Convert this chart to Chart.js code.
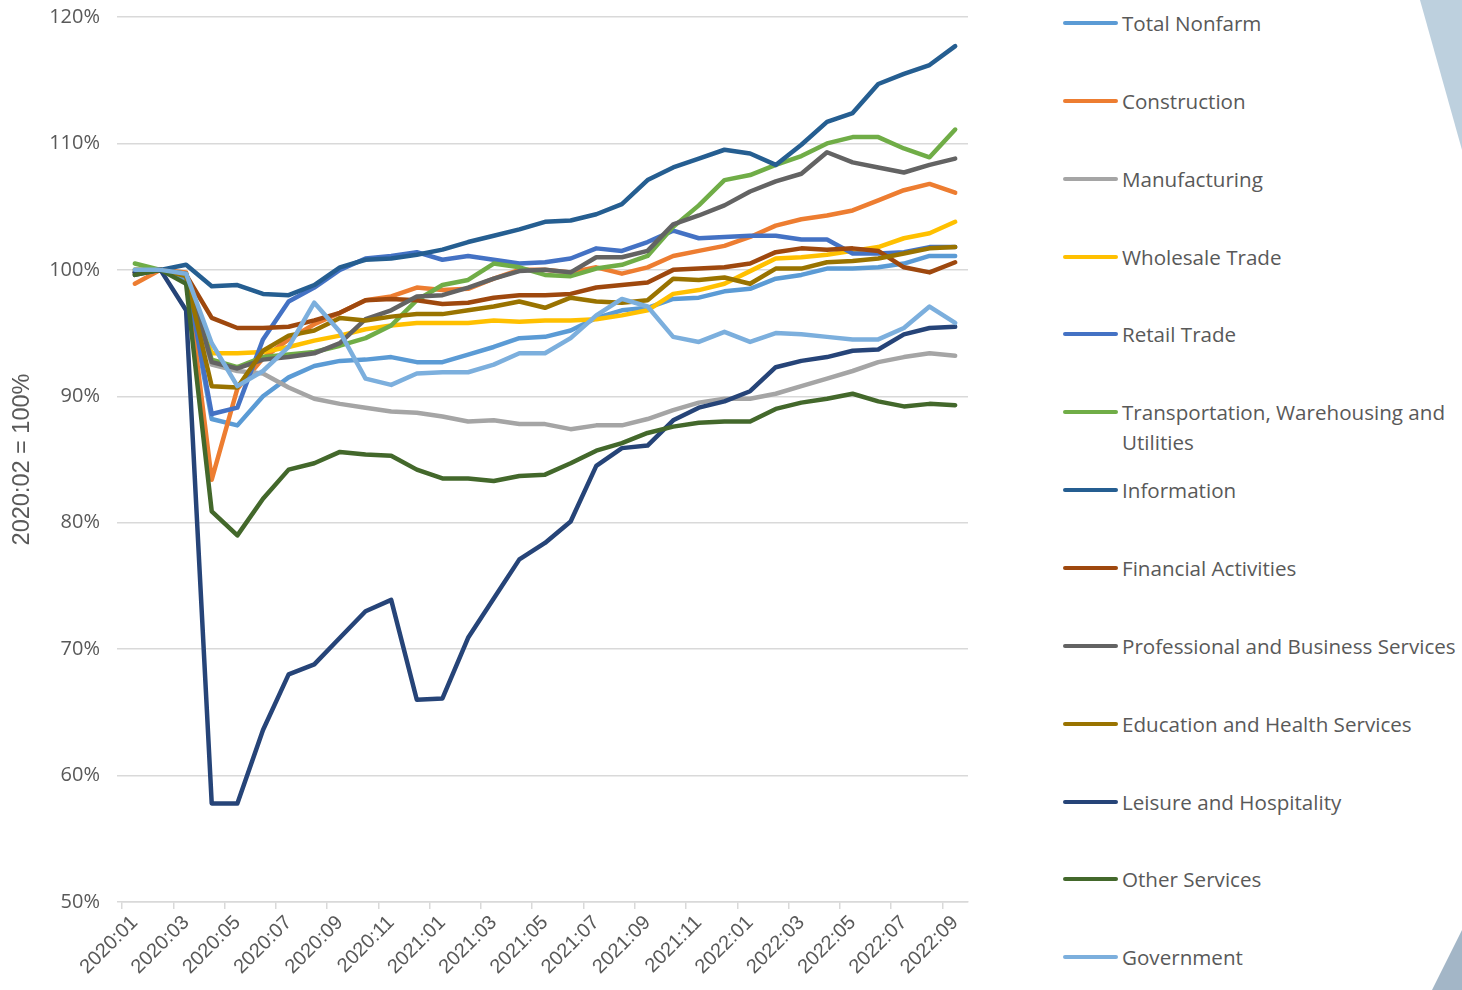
<!DOCTYPE html>
<html>
<head>
<meta charset="utf-8">
<script src="https://cdn.jsdelivr.net/npm/chart.js@4"></script>
<style>
  html, body { margin: 0; padding: 0; background: #fff; }
  #page { position: relative; width: 1462px; height: 990px; overflow: hidden; }
  #chartBox { position: absolute; left: 0; top: 0; width: 975px; height: 990px; }
  #legend { position: absolute; left: 1063px; top: 0; width: 399px; height: 990px;
            font-family: "Open Sans", sans-serif; font-size: 20.6px; color: #595959; }
  .item { position: absolute; left: 0; display: flex; align-items: flex-start; }
  .swatch { width: 55px; height: 4px; border-radius: 2px; margin-top: 13px; flex: none; }
  .label { margin-left: 4px; line-height: 30px; max-width: 345px; white-space: normal; }
  .tri { position: absolute; }
  #triTop { left: 1420px; top: 0; width: 42px; height: 150px; background: #bdd0de;
            clip-path: polygon(0 0, 100% 0, 100% 100%); }
  #triBottom { left: 1432px; top: 930px; width: 30px; height: 60px; background: #a3b6c7;
               clip-path: polygon(100% 0, 100% 100%, 0 100%); }
</style>
</head>
<body>
<div id="page">
  <div id="chartBox"><canvas id="empChart"></canvas></div>
  <div id="legend"></div>
  <div class="tri" id="triTop"></div>
  <div class="tri" id="triBottom"></div>
</div>
<script>
const months = [
  "2020:01", "2020:02", "2020:03", "2020:04", "2020:05", "2020:06", "2020:07", "2020:08", "2020:09", "2020:10", "2020:11", "2020:12",
  "2021:01", "2021:02", "2021:03", "2021:04", "2021:05", "2021:06", "2021:07", "2021:08", "2021:09", "2021:10", "2021:11", "2021:12",
  "2022:01", "2022:02", "2022:03", "2022:04", "2022:05", "2022:06", "2022:07", "2022:08", "2022:09"
];

const seriesNames = [
  "Total Nonfarm", "Construction", "Manufacturing", "Wholesale Trade", "Retail Trade",
  "Transportation, Warehousing and Utilities", "Information", "Financial Activities",
  "Professional and Business Services", "Education and Health Services",
  "Leisure and Hospitality", "Other Services", "Government"
];

const seriesColors = [
  "#5b9bd5", "#ed7d31", "#a5a5a5", "#ffc000", "#4472c4", "#70ad47", "#255e91",
  "#9e480e", "#636363", "#997300", "#264478", "#43682b", "#7cafdd"
];

// percent of 2020:02 level
const totalNonfarm   = [100.0, 100.0, 99.3, 88.2, 87.7, 90.0, 91.5, 92.4, 92.8, 92.9, 93.1, 92.7, 92.7, 93.3, 93.9, 94.6, 94.7, 95.2, 96.2, 96.8, 97.0, 97.7, 97.8, 98.3, 98.5, 99.3, 99.6, 100.1, 100.1, 100.2, 100.5, 101.1, 101.1];
const construction   = [98.9, 100.0, 99.8, 83.4, 90.6, 93.0, 94.5, 95.7, 96.6, 97.6, 97.9, 98.6, 98.4, 98.5, 99.3, 100.0, 100.0, 99.8, 100.2, 99.7, 100.2, 101.1, 101.5, 101.9, 102.6, 103.5, 104.0, 104.3, 104.7, 105.5, 106.3, 106.8, 106.1];
const manufacturing  = [100.0, 100.0, 99.6, 92.5, 92.0, 91.8, 90.7, 89.8, 89.4, 89.1, 88.8, 88.7, 88.4, 88.0, 88.1, 87.8, 87.8, 87.4, 87.7, 87.7, 88.2, 88.9, 89.5, 89.8, 89.8, 90.2, 90.8, 91.4, 92.0, 92.7, 93.1, 93.4, 93.2];
const wholesale      = [100.0, 100.0, 99.6, 93.4, 93.4, 93.5, 93.9, 94.4, 94.8, 95.3, 95.6, 95.8, 95.8, 95.8, 96.0, 95.9, 96.0, 96.0, 96.1, 96.4, 96.8, 98.1, 98.4, 98.9, 99.9, 100.9, 101.0, 101.2, 101.5, 101.8, 102.5, 102.9, 103.8];
const retail         = [99.8, 100.0, 99.6, 88.6, 89.1, 94.5, 97.5, 98.6, 100.0, 100.9, 101.1, 101.4, 100.8, 101.1, 100.8, 100.5, 100.6, 100.9, 101.7, 101.5, 102.2, 103.1, 102.5, 102.6, 102.7, 102.7, 102.4, 102.4, 101.3, 101.3, 101.4, 101.8, 101.8];
const transportation = [100.5, 100.0, 99.7, 92.9, 92.3, 93.1, 93.3, 93.5, 94.0, 94.6, 95.6, 97.6, 98.8, 99.2, 100.5, 100.2, 99.6, 99.5, 100.1, 100.4, 101.1, 103.4, 105.1, 107.1, 107.5, 108.3, 109.0, 110.0, 110.5, 110.5, 109.6, 108.9, 111.1];
const information    = [99.6, 100.0, 100.4, 98.7, 98.8, 98.1, 98.0, 98.8, 100.2, 100.8, 100.9, 101.2, 101.6, 102.2, 102.7, 103.2, 103.8, 103.9, 104.4, 105.2, 107.1, 108.1, 108.8, 109.5, 109.2, 108.3, 109.9, 111.7, 112.4, 114.7, 115.5, 116.2, 117.7];
const financial      = [99.7, 100.0, 99.6, 96.2, 95.4, 95.4, 95.5, 96.0, 96.6, 97.6, 97.7, 97.6, 97.3, 97.4, 97.8, 98.0, 98.0, 98.1, 98.6, 98.8, 99.0, 100.0, 100.1, 100.2, 100.5, 101.4, 101.7, 101.6, 101.7, 101.5, 100.2, 99.8, 100.6];
const professional   = [99.8, 100.0, 99.7, 92.7, 92.2, 92.9, 93.1, 93.4, 94.2, 96.1, 96.8, 97.9, 98.0, 98.6, 99.3, 99.9, 100.0, 99.8, 101.0, 101.0, 101.5, 103.6, 104.3, 105.1, 106.2, 107.0, 107.6, 109.3, 108.5, 108.1, 107.7, 108.3, 108.8];
const education      = [99.8, 100.0, 99.5, 90.8, 90.7, 93.6, 94.8, 95.2, 96.2, 96.0, 96.3, 96.5, 96.5, 96.8, 97.1, 97.5, 97.0, 97.8, 97.5, 97.4, 97.6, 99.3, 99.2, 99.4, 98.9, 100.1, 100.1, 100.6, 100.7, 100.9, 101.3, 101.7, 101.8];
const leisure        = [99.8, 100.0, 96.8, 57.8, 57.8, 63.6, 68.0, 68.8, 70.9, 73.0, 73.9, 66.0, 66.1, 70.9, 74.0, 77.1, 78.4, 80.1, 84.5, 85.9, 86.1, 88.1, 89.1, 89.6, 90.4, 92.3, 92.8, 93.1, 93.6, 93.7, 94.9, 95.4, 95.5];
const otherServices  = [99.6, 100.0, 98.9, 80.9, 79.0, 81.9, 84.2, 84.7, 85.6, 85.4, 85.3, 84.2, 83.5, 83.5, 83.3, 83.7, 83.8, 84.7, 85.7, 86.3, 87.1, 87.6, 87.9, 88.0, 88.0, 89.0, 89.5, 89.8, 90.2, 89.6, 89.2, 89.4, 89.3];
const government     = [100.0, 100.0, 99.7, 94.2, 90.8, 92.0, 93.9, 97.4, 95.1, 91.4, 90.9, 91.8, 91.9, 91.9, 92.5, 93.4, 93.4, 94.6, 96.4, 97.7, 97.1, 94.7, 94.3, 95.1, 94.3, 95.0, 94.9, 94.7, 94.5, 94.5, 95.4, 97.1, 95.8];

const yTicks = [50, 60, 70, 80, 90, 100, 110, 120];

const allSeries = [totalNonfarm, construction, manufacturing, wholesale, retail, transportation,
  information, financial, professional, education, leisure, otherServices, government];

const gridColor = "#d9d9d9";
const textColor = "#595959";

document.addEventListener("DOMContentLoaded", function () {
  // later series drawn on top, like the original
  const datasets = allSeries.map((vals, i) => ({
    label: seriesNames[i],
    data: vals,
    borderColor: seriesColors[i],
    backgroundColor: seriesColors[i],
    borderWidth: 4.5,
    pointRadius: 0,
    tension: 0,
    fill: false,
    order: -i
  }));

  const ctx = document.getElementById("empChart").getContext("2d");
  window.empChart = new Chart(ctx, {
    type: "line",
    data: { labels: months, datasets: datasets },
    options: {
      responsive: true,
      maintainAspectRatio: false,
      animation: false,
      layout: { padding: { top: 17, right: 7, left: 0, bottom: 0 } },
      plugins: { legend: { display: false }, tooltip: { enabled: false } },
      elements: { line: { borderCapStyle: "round", borderJoinStyle: "round" } },
      scales: {
        x: {
          offset: true,
          grid: {
            offset: true,
            drawOnChartArea: false,
            drawTicks: true,
            tickLength: 7,
            lineWidth: 1.5,
            color: c => (c.index % 2 === 0 ? gridColor : "rgba(0,0,0,0)")
          },
          border: { display: true, color: gridColor, width: 1.5 },
          ticks: {
            autoSkip: false,
            maxRotation: 45,
            minRotation: 45,
            padding: 2,
            color: textColor,
            font: { family: "'Liberation Sans Narrow', 'Liberation Sans', sans-serif", size: 20 },
            callback: (v, i) => (i % 2 === 0 ? months[i] : "")
          },
          afterFit: s => { s.height = 88; }
        },
        y: {
          min: yTicks[0],
          max: yTicks[yTicks.length - 1],
          afterBuildTicks: s => { s.ticks = yTicks.map(v => ({ value: v })); },
          grid: { color: gridColor, lineWidth: 1.5, tickLength: 5 },
          border: { display: false },
          ticks: {
            padding: 17,
            color: textColor,
            font: { family: "'Open Sans', sans-serif", size: 20 },
            callback: v => v + "%"
          },
          title: {
            display: true,
            text: "2020:02 = 100%",
            color: textColor,
            font: { family: "'Liberation Sans Narrow', 'Liberation Sans', sans-serif", size: 23.5 },
            padding: { top: 8, bottom: 4 }
          },
          afterFit: s => { s.width = 122; s.paddingTop = 0; s.paddingBottom = 0; }
        }
      }
    }
  });

  // legend on the right, one item per series
  const legend = document.getElementById("legend");
  seriesNames.forEach((name, i) => {
    const item = document.createElement("div");
    item.className = "item";
    item.style.top = Math.round(23 + 77.85 * i - 15) + "px";
    const sw = document.createElement("div");
    sw.className = "swatch";
    sw.style.background = seriesColors[i];
    const lab = document.createElement("div");
    lab.className = "label";
    lab.textContent = name;
    item.appendChild(sw);
    item.appendChild(lab);
    legend.appendChild(item);
  });
});
</script>
</body>
</html>
